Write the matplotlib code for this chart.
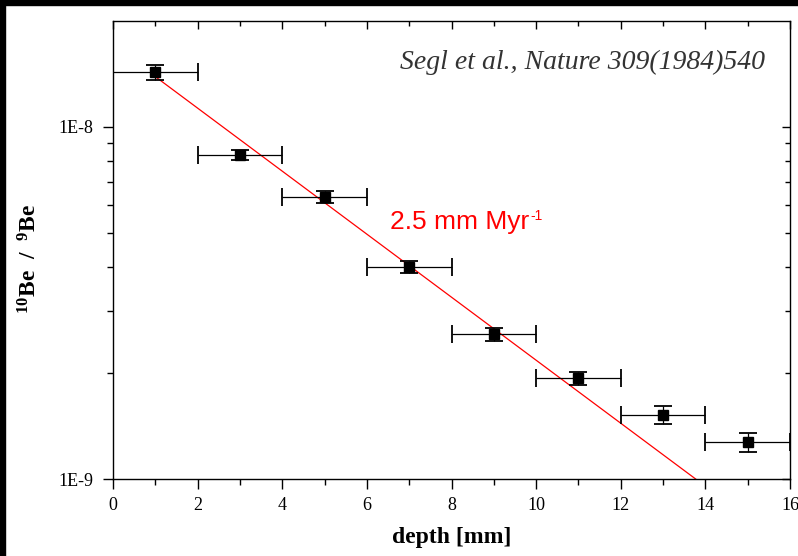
import matplotlib
matplotlib.use("Agg")
import matplotlib.pyplot as plt
from matplotlib.patches import Rectangle

# ------------------------------------------------------------------ #
#                              DATA                                  #
# ------------------------------------------------------------------ #
depth = [1, 3, 5, 7, 9, 11, 13, 15]
depth_err = [1, 1, 1, 1, 1, 1, 1, 1]
ratio = [1.43e-8, 8.33e-9, 6.32e-9, 4.00e-9, 2.58e-9, 1.93e-9, 1.52e-9, 1.27e-9]
ratio_err = [0.067e-8, 0.27e-9, 0.25e-9, 0.16e-9, 0.11e-9, 0.077e-9, 0.087e-9, 0.077e-9]

fit_depth = [1.0, 13.77]
fit_ratio = [1.39e-8, 1.0e-9]

xticks = [0, 2, 4, 6, 8, 10, 12, 14, 16]
yticks = [1e-9, 1e-8]
ytick_labels = ["1E-9", "1E-8"]

SERIF = "Liberation Serif"
SANS = "Liberation Sans"

# ------------------------------------------------------------------ #
#                              FIGURE                                #
# ------------------------------------------------------------------ #
W, H = 798, 556
fig = plt.figure(figsize=(W / 100, H / 100), dpi=100)
fig.patch.set_facecolor("white")

# black bands on top / left edge
fig.patches.append(Rectangle((0, 1 - 5 / H), 1, 5 / H, transform=fig.transFigure,
                             color="black", zorder=0))
fig.patches.append(Rectangle((0, 0), 5 / W, 1, transform=fig.transFigure,
                             color="black", zorder=0))

rect = [113 / W, (H - 479) / H, (790 - 113) / W, (479 - 21) / H]
ax = fig.add_axes(rect)
ax.set_yscale("log")
ax.set_xlim(0, 16)
ax.set_ylim(1e-9, 2e-8)

ax.plot(fit_depth, fit_ratio, color="red", lw=0.9, zorder=2)
ax.errorbar(depth, ratio, xerr=depth_err, yerr=ratio_err, fmt="s", color="black",
            ms=7, elinewidth=0.9, capsize=6.5, capthick=1.3, zorder=3)

# ticks
ax.set_xticks(xticks)
ax.set_xticks([1, 3, 5, 7, 9, 11, 13, 15], minor=True)
ax.set_yticks(yticks)
ax.set_yticklabels(ytick_labels)
ax.set_yticks([k * 1e-9 for k in range(2, 10)], minor=True)
ax.yaxis.set_minor_formatter(plt.NullFormatter())
ax.tick_params(which="major", direction="out", length=7, width=1, labelsize=13)
ax.tick_params(axis="x", which="major", pad=6)
ax.tick_params(axis="y", which="major", pad=7)
ax.tick_params(which="minor", direction="out", length=4.5, width=1)
for lab in ax.get_xticklabels() + ax.get_yticklabels():
    lab.set_fontfamily(SERIF)
for sp in ax.spines.values():
    sp.set_linewidth(1.0)

# inward ticks on top / right via overlay
ax2 = fig.add_axes(rect, sharex=ax, sharey=ax)
ax2.patch.set_visible(False)
for sp in ax2.spines.values():
    sp.set_visible(False)
ax2.tick_params(which="both", direction="in", bottom=False, left=False, top=True,
                right=True, labelbottom=False, labelleft=False, width=1)
ax2.tick_params(which="major", length=6)
ax2.tick_params(which="minor", length=3.5)

# labels
ax.set_xlabel("depth [mm]", fontfamily=SERIF, fontweight="bold", fontsize=17)
ax.xaxis.set_label_coords(0.5, -0.104)
ax.set_ylabel(r"$\mathregular{^{10}}$Be  /  $\mathregular{^{9}}$Be", fontfamily=SERIF,
              fontweight="bold", fontsize=17)
ax.yaxis.set_label_coords(-0.105, 0.481)

ax.text(0.963, 0.91, "Segl et al., Nature 309(1984)540", transform=ax.transAxes,
        ha="right", va="center", fontfamily=SERIF, style="italic", fontsize=20,
        color="#333333")
rate = ax.text(0.409, 0.561, "2.5 mm Myr", transform=ax.transAxes,
               ha="left", va="center", fontfamily=SANS, fontsize=19, color="red")
ax.annotate("-1", xy=(1, 1), xycoords=rate, xytext=(1, 1), textcoords="offset points",
            ha="left", va="top", fontfamily=SANS, fontsize=10, color="red")

fig.savefig("out.png", dpi=100, facecolor=fig.get_facecolor())
